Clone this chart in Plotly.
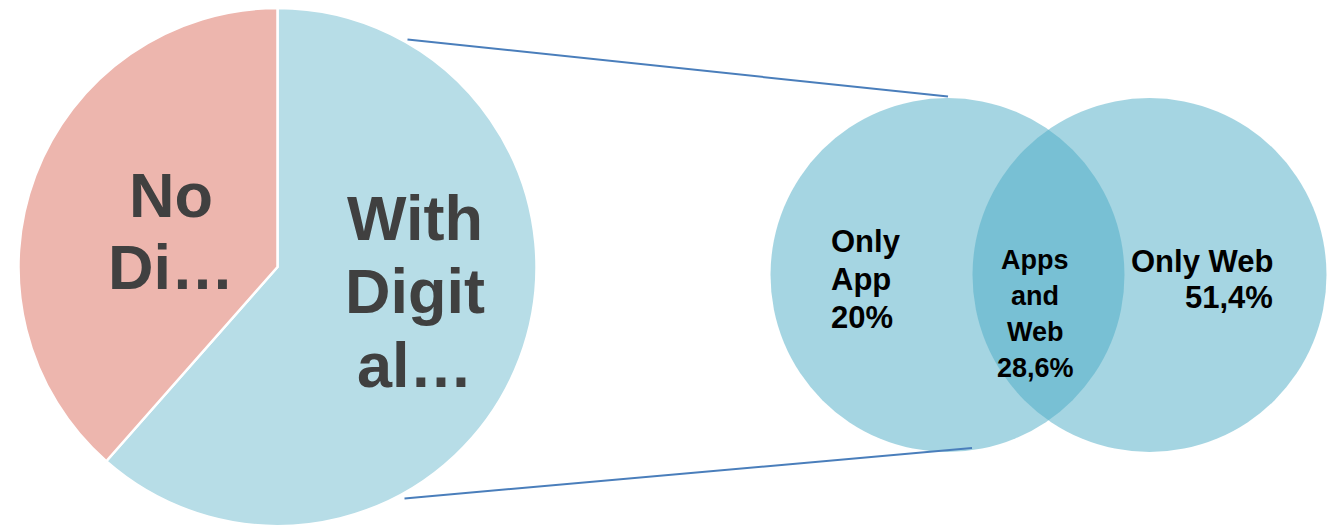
import plotly.graph_objects as go

W, H = 1327, 526

# Pie: share of users with / without digital channels
pie_labels = ["With Digital", "No Digital"]
pie_values = [61.5, 38.5]
pie_colors = ["#B7DDE7", "#EDB6AE"]
pie_text = {"With Digital": ["With", "Digit", "al…"], "No Digital": ["No", "Di…"]}

# Venn breakdown of the digital users
venn_labels = ["Only App", "Apps and Web", "Only Web"]
venn_values = ["20%", "28,6%", "51,4%"]


def px_x(v):
    return v / W


def px_y(v):
    return 1 - v / H


FONT = "Liberation Sans, Arial, sans-serif"

fig = go.Figure()

# pie centred at (277.5, 267) px, radius 259
cx, cy, r = 277.5, 267, 259
fig.add_trace(go.Pie(
    labels=pie_labels,
    values=pie_values,
    sort=False,
    direction="clockwise",
    rotation=0,
    textinfo="none",
    hoverinfo="label+value",
    marker=dict(colors=pie_colors, line=dict(color="white", width=2.5)),
    domain=dict(x=[px_x(cx - r), px_x(cx + r)], y=[max(0, px_y(cy + r)), px_y(cy - r)]),
    showlegend=False,
))

annotations = []


def add_lines(lines, x, baselines, size, color, align="center"):
    xanchor = {"center": "center", "left": "left", "right": "right"}[align]
    for line, b in zip(lines, baselines):
        annotations.append(dict(
            x=px_x(x), y=px_y(b - 0.35 * size), xref="paper", yref="paper",
            text=f"<b>{line}</b>", showarrow=False, xanchor=xanchor, yanchor="middle",
            font=dict(family=FONT, size=size, color=color), borderpad=0,
        ))


add_lines(pie_text["No Digital"], 171, [217, 289], 63, "#404040")
add_lines(pie_text["With Digital"], 415, [240, 313, 387], 63, "#404040")

# Venn circles
shapes = []
venn_r = 177
for ccx in (947.5, 1149.5):
    shapes.append(dict(
        type="circle", xref="paper", yref="paper",
        x0=px_x(ccx - venn_r), x1=px_x(ccx + venn_r),
        y0=px_y(275 + venn_r), y1=px_y(275 - venn_r),
        fillcolor="#4BABC5", opacity=0.5, line=dict(width=0), layer="above",
    ))

# connector lines from pie to Venn
for (x0, y0, x1, y1) in [(407.5, 39.5, 948, 96.5), (404.5, 498.5, 972, 448)]:
    shapes.append(dict(
        type="line", xref="paper", yref="paper",
        x0=px_x(x0), y0=px_y(y0), x1=px_x(x1), y1=px_y(y1),
        line=dict(color="#4A7EBB", width=2), layer="above",
    ))

# Venn labels
add_lines(venn_labels[0].split(" ") + [venn_values[0]], 830, [252, 290, 328], 31, "black", "left")
add_lines(venn_labels[1].split(" ") + [venn_values[1]], 1035, [269, 305, 341, 377], 27, "black")
add_lines([venn_labels[2], venn_values[2]], 1274, [272, 308], 31, "black", "right")

fig.update_layout(
    width=W, height=H,
    margin=dict(l=0, r=0, t=0, b=0),
    paper_bgcolor="white", plot_bgcolor="white",
    shapes=shapes, annotations=annotations,
    xaxis=dict(visible=False), yaxis=dict(visible=False),
)

fig.write_html("out.html")
